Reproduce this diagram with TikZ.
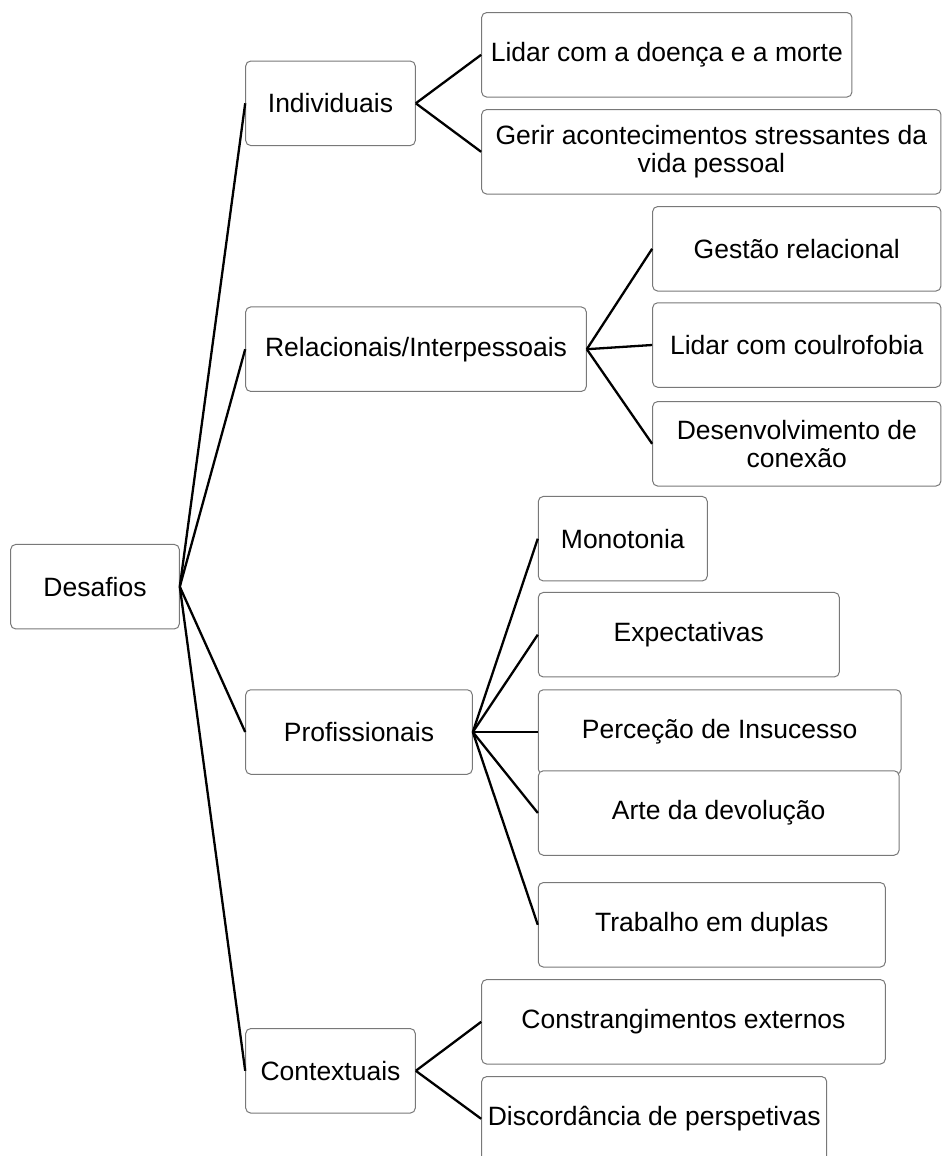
\documentclass[tikz,border=0pt]{standalone}
\usepackage{fontspec}
\setmainfont{Liberation Sans}
\begin{document}
\begin{tikzpicture}[x=1pt,y=-1pt,
  box/.style={draw={rgb,255:red,120;green,120;blue,120}, line width=1pt, rounded corners=5pt,
    fill=white, minimum height=84.5pt, inner sep=0pt, align=center,
    font=\fontsize{26.5}{28}\selectfont},
  link/.style={draw=black, line width=2.3pt}]
\useasboundingbox (0,0) rectangle (942,1156);
\clip (0,0) rectangle (942,1156);

% level 0
\node[box, minimum width=168.6pt] (des) at (95,586.7) {Desafios};
% level 1
\node[box, minimum width=169.6pt] (ind) at (330.5,103.3) {Individuais};
\node[box, minimum width=340.6pt] (rel) at (416,349.2) {Relacionais/Interpessoais};
\node[box, minimum width=226.6pt] (pro) at (359,732) {Profissionais};
\node[box, minimum width=169.6pt] (con) at (330.5,1070.8) {Contextuais};
% Individuais children
\node[box, minimum width=370.3pt] (i1) at (666.8,54.8) {Lidar com a doença e a morte};
\node[box, minimum width=459.3pt] (i2) at (711.3,151.8) {Gerir acontecimentos stressantes da\\vida pessoal};
% Relacionais children
\node[box, minimum width=288.3pt] (r1) at (796.8,248.8) {Gestão relacional};
\node[box, minimum width=288.3pt] (r2) at (796.8,345) {Lidar com coulrofobia};
\node[box, minimum width=288.3pt] (r3) at (796.8,443.8) {Desenvolvimento de\\conexão};
% Profissionais children
\node[box, minimum width=169pt] (p1) at (622.8,538.7) {Monotonia};
\node[box, minimum width=301pt] (p2) at (688.8,634.7) {Expectativas};
\node[box, minimum width=362.7pt] (p3) at (719.7,732) {Perceção de Insucesso};
\node[box, minimum width=360.7pt] (p4) at (718.7,813) {Arte da devolução};
\node[box, minimum width=347pt] (p5) at (711.8,924.8) {Trabalho em duplas};
% Contextuais children
\node[box, minimum width=403.6pt] (c1) at (683.5,1021.8) {Constrangimentos externos};
\node[box, minimum width=345pt] (c2) at (654.2,1118.8) {Discordância de perspetivas};

% connectors
\foreach \t in {ind,rel,pro,con} \draw[link] (des.east) -- (\t.west);
\foreach \t in {i1,i2} \draw[link] (ind.east) -- (\t.west);
\foreach \t in {r1,r2,r3} \draw[link] (rel.east) -- (\t.west);
\foreach \t in {p1,p2,p3,p4,p5} \draw[link] (pro.east) -- (\t.west);
\foreach \t in {c1,c2} \draw[link] (con.east) -- (\t.west);
\end{tikzpicture}
\end{document}
